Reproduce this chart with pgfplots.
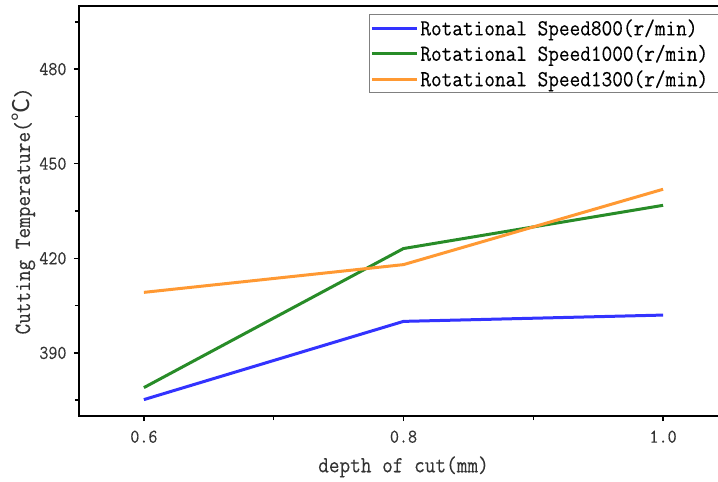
\documentclass[border=0pt]{standalone}
\usepackage{fontspec}
\usepackage{pgfplots}
\pgfplotsset{compat=1.18}
\newfontfamily\mono[FakeStretch=0.9,FakeBold=0.2]{Latin Modern Mono}
\newfontfamily\cjk{Noto Sans CJK SC}
\definecolor{cblue}{RGB}{51,51,255}
\definecolor{cgreen}{RGB}{40,140,40}
\definecolor{corange}{RGB}{255,153,51}
\begin{document}
\begin{tikzpicture}
\begin{axis}[
  scale only axis, width=649pt, height=410pt,
  xmin=0.55, xmax=1.05, ymin=370, ymax=500,
  xtick={0.6,0.8,1.0}, xticklabels={0.6,0.8,1.0},
  minor xtick={0.7,0.9},
  ytick={390,420,450,480}, yticklabels={390,420,450,480},
  minor ytick={375,405,435,465,495},
  tick align=outside, xtick pos=bottom, ytick pos=left,
  major tick length=5pt, minor tick length=4pt,
  every tick/.style={line width=1.5pt, black},
  axis line style={line width=2pt},
  ticklabel style={font=\mono\fontsize{19.5}{19.5}\selectfont, text=black!80},
  xticklabel style={yshift=-6pt},
  yticklabel style={xshift=-4pt},
  label style={font=\mono\fontsize{23}{23}\selectfont, text=black!80},
  xlabel={depth of cut(mm)},
  ylabel={Cutting Temperature({\cjk ℃})},
  xlabel style={at={(axis description cs:0.5,-0.124)}, anchor=center},
  ylabel style={at={(axis description cs:-0.085,0.5)}, anchor=center},
  legend style={at={(axis description cs:0.4468,0.9805)}, anchor=north west,
    draw=gray, line width=0.8pt, font=\mono\fontsize{23}{23}\selectfont,
    inner xsep=1pt, inner ysep=3pt, row sep=4pt, cells={anchor=west}},
  legend image code/.code={\draw[#1, line width=3pt] (0pt,0pt) -- (45pt,0pt);},
  every axis plot/.append style={line width=3pt},
]
\addplot[cblue] coordinates {(0.6,375.2) (0.8,400) (1.0,402)};
\addlegendentry{Rotational Speed800(r/min)\hspace*{12pt}}
\addplot[cgreen] coordinates {(0.6,379) (0.8,423.1) (1.0,436.8)};
\addlegendentry{Rotational Speed1000(r/min)\hspace*{12pt}}
\addplot[corange] coordinates {(0.6,409.2) (0.8,418) (1.0,441.9)};
\addlegendentry{Rotational Speed1300(r/min)\hspace*{12pt}}
\coordinate (ll) at (rel axis cs:0,0);
\end{axis}
\pgfresetboundingbox
\path[use as bounding box] ([xshift=-79pt,yshift=-66pt]ll) rectangle ([xshift=639pt,yshift=416pt]ll);
\end{tikzpicture}
\end{document}
